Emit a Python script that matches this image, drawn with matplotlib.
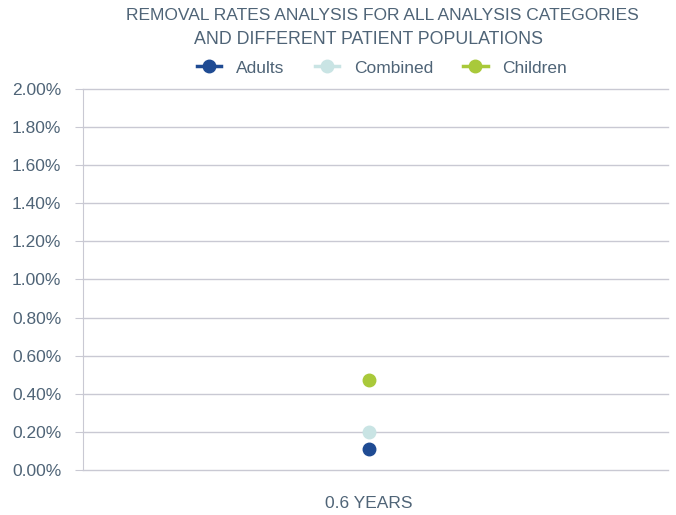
import matplotlib
matplotlib.use("Agg")
import matplotlib.pyplot as plt
from matplotlib.ticker import FuncFormatter

plt.rcParams['font.family'] = ['Liberation Sans', 'DejaVu Sans']

title_lines = ['REMOVAL RATES ANALYSIS FOR ALL ANALYSIS CATEGORIES',
               'AND DIFFERENT PATIENT POPULATIONS']
categories = ['0.6 YEARS']
series = ['Adults', 'Combined', 'Children']
values = {
    'Adults': [0.11],
    'Combined': [0.20],
    'Children': [0.475],
}
colors = {
    'Adults': '#1f4b93',
    'Combined': '#c9e4e4',
    'Children': '#a9c93a',
}
text_color = '#4f6477'
grid_color = '#c9c9d3'

fig = plt.figure(figsize=(6.76, 5.15), dpi=100)
ax = fig.add_axes([0.1228, 0.0874, 0.8654, 0.7398])

xs = list(range(len(categories)))
for name in series:
    ax.plot(xs, values[name], marker='o', markersize=9, color=colors[name],
            linewidth=2.5, label=name, zorder=3)

ax.set_ylim(0, 2.0)
ax.set_yticks([i * 0.2 for i in range(11)])
ax.yaxis.set_major_formatter(FuncFormatter(lambda v, p: f'{v:.2f}%'))
ax.set_xlim(-0.5, 0.523)
ax.set_xticks(xs)
ax.set_xticklabels(categories)

ax.grid(axis='y', color=grid_color, linewidth=1)
for gl in ax.get_ygridlines():
    gl.set_clip_on(False)
ax.set_axisbelow(True)
for s in ['top', 'right', 'bottom']:
    ax.spines[s].set_visible(False)
ax.spines['left'].set_color(grid_color)
ax.tick_params(axis='y', length=6, color=grid_color, labelcolor=text_color,
               labelsize=12.5, pad=9.5)
ax.tick_params(axis='x', length=0, labelcolor=text_color, labelsize=12.5, pad=19)

# two title lines are not centred on the same x in the reference
fig.text(382.5 / 676, 1 - 15 / 515, title_lines[0], ha='center', va='center',
         fontsize=12.5, color=text_color)
fig.text(369 / 676, 1 - 40 / 515, title_lines[1], ha='center', va='center',
         fontsize=12.8, color=text_color)

leg = fig.legend(loc='center', bbox_to_anchor=(0.565, 0.868), ncol=3, frameon=False,
                 fontsize=12.5, handlelength=1.4, columnspacing=1.75, handletextpad=0.85)
for t in leg.get_texts():
    t.set_color(text_color)

fig.savefig('out.png', dpi=100)
